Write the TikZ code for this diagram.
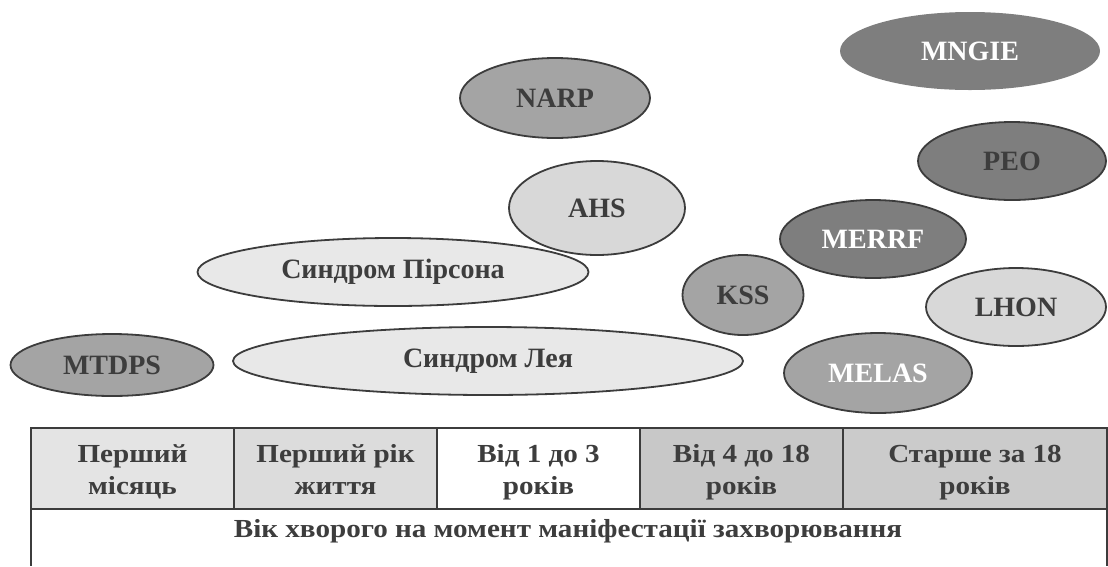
\documentclass[tikz,border=0pt]{standalone}
\usepackage{fontspec}
\setmainfont{Liberation Serif}
\newfontfamily\tablefont{Liberation Serif}[FakeStretch=1.12]
\usepackage{xcolor}
\definecolor{lineGray}{HTML}{3C3C3C}
\definecolor{textGray}{HTML}{3D3D3D}
\definecolor{shadeDark}{HTML}{7E7E7E}
\definecolor{shadeMid}{HTML}{A4A4A4}
\definecolor{shadeLight}{HTML}{D8D8D8}
\definecolor{shadePale}{HTML}{E8E8E8}
\definecolor{cellA}{HTML}{E4E4E4}
\definecolor{cellB}{HTML}{DCDCDC}
\definecolor{cellD}{HTML}{C8C8C8}
\definecolor{cellE}{HTML}{CBCBCB}
\usetikzlibrary{positioning,shapes.geometric}
\newcommand{\twolines}[2]{\rule{0pt}{30pt}#1\\#2\strut}

\begin{document}
\begin{tikzpicture}[
  x=1pt, y=-1pt,
  font=\bfseries\fontsize{28}{32}\selectfont,
  ell/.style={ellipse, draw=lineGray, line width=1.8pt, inner sep=0pt, text=textGray},
  dims/.style 2 args={minimum width=#1pt, minimum height=#2pt},
  light/.style={text=white},
  cell/.style={rectangle, draw=lineGray, line width=2.6pt, minimum width=203pt,
               minimum height=81pt, inner sep=0pt, outer sep=0pt, align=center,
               text=textGray, font=\tablefont\bfseries\fontsize{26}{32}\selectfont},
  tableline/.style={draw=lineGray, line width=2.6pt}
]
\useasboundingbox (0,0) rectangle (1108,566);
\coordinate (pagebottom) at (0,566);

% disorders
\node[ell, draw=none, fill=shadeDark, light, dims={260}{78}] (mngie) at (970,51) {MNGIE};
\node[ell, fill=shadeMid, dims={190}{80}] (narp) at (555,98) {NARP};
\node[ell, fill=shadeDark, dims={188}{78}] (peo) at (1012,161) {PEO};
\node[ell, fill=shadeLight, dims={176}{94}] (ahs) at (597,208) {AHS};
\node[ell, fill=shadeDark, light, dims={186}{78}] (merrf) at (873,239) {MERRF};
\node[ell, fill=shadePale, dims={391}{68}] (pearson) at (393,272) {Синдром Пірсона};
\node[ell, fill=shadeMid, dims={121}{80}] (kss) at (743,295) {KSS};
\node[ell, fill=shadeLight, dims={180}{78}] (lhon) at (1016,307) {LHON};
\node[ell, fill=shadeMid, dims={203}{62}] (mtdps) at (112,365) {MTDPS};
\node[ell, fill=shadePale, dims={510}{68}] (leigh) at (488,361) {Синдром Лея};
\node[ell, fill=shadeMid, light, dims={188}{80}] (melas) at (878,373) {MELAS};

% age table
\node[cell, fill=cellA, anchor=north west] (first) at (31,428) {\twolines{Перший}{місяць}};
\node[cell, fill=cellB, right=0pt of first] (year) {\twolines{Перший рік}{життя}};
\node[cell, fill=white, right=0pt of year] (one) {\twolines{Від 1 до 3}{років}};
\node[cell, fill=cellD, right=0pt of one] (four) {\twolines{Від 4 до 18}{років}};
\node[cell, fill=cellE, right=0pt of four, minimum width=264pt] (adult) {\twolines{Старше за 18}{років}};
\node[anchor=base, text=textGray, font=\tablefont\bfseries\fontsize{26}{32}\selectfont] (onset)
  at (568,537) {Вік хворого на момент маніфестації захворювання};
\draw[tableline] (first.south west) -- (first.south west |- pagebottom);
\draw[tableline] (adult.south east) -- (adult.south east |- pagebottom);
\end{tikzpicture}
\end{document}
